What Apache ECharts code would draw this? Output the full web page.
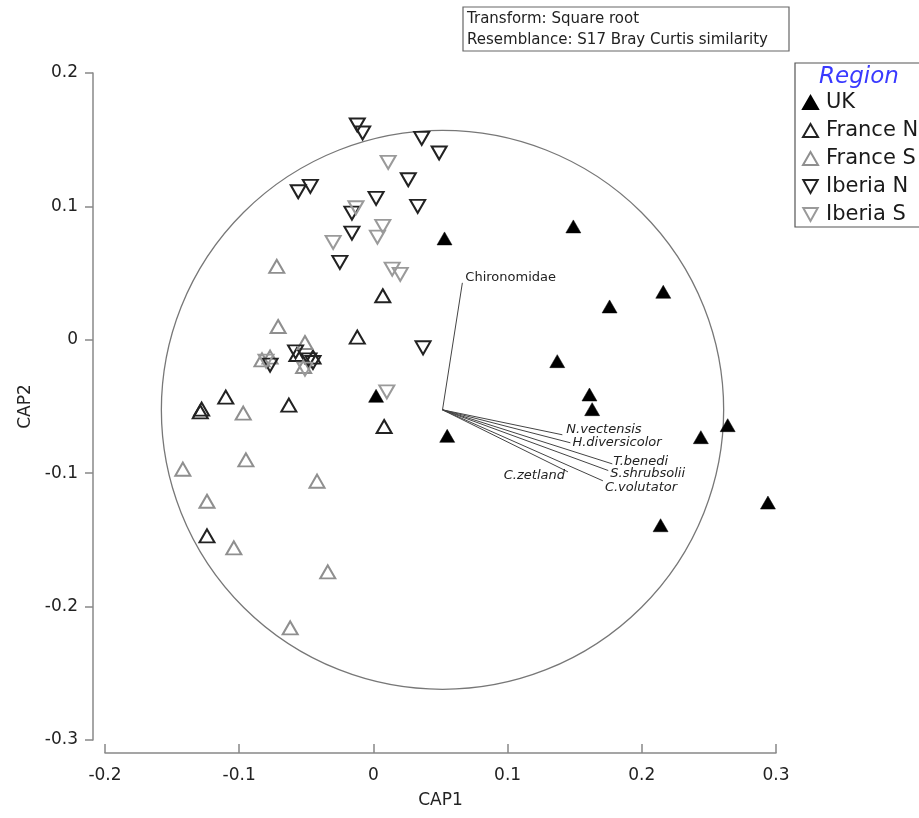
<!DOCTYPE html>
<html>
<head>
<meta charset="utf-8">
<script src="https://cdn.jsdelivr.net/npm/echarts@6/dist/echarts.min.js"></script>
<style>
html, body { margin: 0; padding: 0; background: #fff; }
#main { width: 919px; height: 818px; }
</style>
</head>
<body>
<div id="main"></div>
<script>
/* 数据 */
var ukX = [0.053, 0.149, 0.216, 0.176, 0.137, 0.161, 0.163, 0.055, 0.244, 0.264, 0.294, 0.214, 0.002];
var ukY = [0.076, 0.085, 0.036, 0.025, -0.016, -0.041, -0.052, -0.072, -0.073, -0.064, -0.122, -0.139, -0.042];

var franceNX = [-0.129, -0.128, -0.110, -0.063, 0.008, -0.124, 0.007, -0.012, -0.057, -0.045];
var franceNY = [-0.054, -0.052, -0.043, -0.049, -0.065, -0.147, 0.033, 0.002, -0.011, -0.013];

var franceSX = [-0.072, -0.071, -0.083, -0.077, -0.051, -0.052, -0.097, -0.142, -0.095, -0.042, -0.124, -0.104, -0.034, -0.062];
var franceSY = [0.055, 0.010, -0.015, -0.013, -0.002, -0.020, -0.055, -0.097, -0.090, -0.106, -0.121, -0.156, -0.174, -0.216];

var iberiaNX = [-0.012, -0.008, 0.036, 0.049, 0.026, 0.002, 0.033, -0.016, -0.016, -0.025, -0.056, -0.047, 0.037, -0.077, -0.058, -0.048, -0.045];
var iberiaNY = [0.161, 0.155, 0.151, 0.140, 0.120, 0.106, 0.100, 0.095, 0.080, 0.058, 0.111, 0.115, -0.006, -0.019, -0.009, -0.015, -0.017];

var iberiaSX = [0.011, -0.013, 0.007, 0.003, -0.030, 0.014, 0.020, 0.010, -0.080, -0.051];
var iberiaSY = [0.133, 0.099, 0.085, 0.077, 0.073, 0.053, 0.049, -0.039, -0.016, -0.022];

/* 向量 */
var vectorNames = ['Chironomidae', 'N.vectensis', 'H.diversicolor', 'T.benedi', 'S.shrubsolii', 'C.volutator', 'C.zetland'];
var vectorX = [0.0663, 0.1408, 0.1468, 0.178, 0.175, 0.171, 0.145];
var vectorY = [0.0427, -0.0712, -0.0772, -0.093, -0.098, -0.1057, -0.099];
var vectorOrigin = [0.0515, -0.0525];
var circleRadius = 0.2095;

/* 刻度 */
var xTicks = ['-0.2', '-0.1', '0', '0.1', '0.2', '0.3'];
var yTicks = ['-0.3', '-0.2', '-0.1', '0', '0.1', '0.2'];

var FONT = 'DejaVu Sans, Verdana, sans-serif';
var DOWN = 'path://M0,0 L10,0 L5,9 Z';

/* 标签位置 */
var labelStyle = {
	'Chironomidae': { align: 'left', dx: 3, dy: -5 },
	'N.vectensis': { align: 'left', dx: 4, dy: -5 },
	'H.diversicolor': { align: 'left', dx: 2, dy: 0 },
	'T.benedi': { align: 'left', dx: 1, dy: -2 },
	'S.shrubsolii': { align: 'left', dx: 2, dy: 3 },
	'C.volutator': { align: 'left', dx: 2, dy: 7 },
	'C.zetland': { align: 'right', dx: -3, dy: 4 }
};

function zip(xs, ys) {
	var out = [];
	for (var i = 0; i < xs.length; i++) {
		out.push([xs[i], ys[i]]);
	}
	return out;
}

var myChart = echarts.init(document.getElementById('main'), null, { renderer: 'canvas' });

function pointSeries(name, xs, ys, fill, stroke, down) {
	return {
		name: name,
		type: 'scatter',
		data: zip(xs, ys),
		symbol: 'triangle',
		symbolSize: [15, 13],
		symbolRotate: down ? 180 : 0,
		z: 5,
		itemStyle: {
			color: fill,
			borderColor: stroke,
			borderWidth: fill === stroke ? 0.5 : 2,
			opacity: 1
		}
	};
}

var vectorData = [];
for (var i = 0; i < vectorNames.length; i++) {
	vectorData.push([vectorX[i], vectorY[i], vectorNames[i]]);
}

var option = {
	backgroundColor: '#fff',
	animation: false,
	textStyle: { fontFamily: FONT },
	grid: { left: 105, right: 143, top: 73, bottom: 78 },
	xAxis: {
		type: 'value',
		min: -0.2,
		max: 0.3,
		interval: 0.1,
		offset: 13,
		name: 'CAP1',
		nameLocation: 'middle',
		nameGap: 39,
		nameTextStyle: { fontSize: 17, color: '#222', fontFamily: FONT },
		axisLine: { onZero: false, lineStyle: { color: '#888', width: 1.5 } },
		axisTick: { inside: true, length: 9, lineStyle: { color: '#888', width: 1.5 } },
		axisLabel: {
			fontSize: 17, color: '#222', margin: 14, fontFamily: FONT,
			formatter: function(v) { return xTicks[Math.round((v + 0.2) * 10)]; }
		},
		splitLine: { show: false }
	},
	yAxis: {
		type: 'value',
		min: -0.3,
		max: 0.2,
		interval: 0.1,
		offset: 12,
		name: 'CAP2',
		nameLocation: 'middle',
		nameGap: 58,
		nameTextStyle: { fontSize: 17, color: '#222', fontFamily: FONT },
		axisLine: { onZero: false, lineStyle: { color: '#888', width: 1.5 } },
		axisTick: { length: 8, lineStyle: { color: '#888', width: 1.5 } },
		axisLabel: {
			fontSize: 17, color: '#222', margin: 15, fontFamily: FONT,
			formatter: function(v) { return yTicks[Math.round((v + 0.3) * 10)]; }
		},
		splitLine: { show: false }
	},
	legend: {
		orient: 'vertical',
		left: 802,
		top: 92,
		itemGap: 7,
		itemWidth: 15,
		itemHeight: 13,
		padding: 0,
		textStyle: { fontSize: 21, lineHeight: 20, color: '#1a1a1a', fontFamily: FONT, padding: [0, 0, 0, 3] },
		data: [
			{ name: 'UK' },
			{ name: 'France N' },
			{ name: 'France S' },
			{ name: 'Iberia N', icon: DOWN },
			{ name: 'Iberia S', icon: DOWN }
		]
	},
	graphic: [
		{
			type: 'rect',
			shape: { x: 795, y: 63, width: 140, height: 164 },
			style: { fill: '#fff', stroke: '#555', lineWidth: 1.2 },
			z: 0
		},
		{
			type: 'text',
			x: 859,
			y: 77,
			style: {
				text: 'Region', fill: '#3a3aff', font: 'oblique 23px ' + FONT,
				textAlign: 'center', textVerticalAlign: 'middle'
			},
			z: 1
		},
		{
			type: 'rect',
			shape: { x: 463, y: 7, width: 326, height: 44 },
			style: { fill: '#fff', stroke: '#666', lineWidth: 1.2 }
		},
		{
			type: 'text',
			x: 467,
			y: 19,
			style: { text: 'Transform: Square root', fill: '#222', font: '15px ' + FONT, textVerticalAlign: 'middle' }
		},
		{
			type: 'text',
			x: 467,
			y: 40,
			style: { text: 'Resemblance: S17 Bray Curtis similarity', fill: '#222', font: '15px ' + FONT, textVerticalAlign: 'middle' }
		}
	],
	series: [
		{
			/* 相关圆 */
			type: 'custom',
			silent: true,
			clip: false,
			z: 1,
			data: [[vectorOrigin[0], vectorOrigin[1]]],
			renderItem: function(params, api) {
				var c = api.coord([api.value(0), api.value(1)]);
				var ex = api.coord([api.value(0) + circleRadius, api.value(1)]);
				var ey = api.coord([api.value(0), api.value(1) + circleRadius]);
				var rx = ex[0] - c[0];
				var ry = c[1] - ey[1];
				return {
					type: 'circle',
					shape: { cx: 0, cy: 0, r: rx },
					x: c[0],
					y: c[1],
					scaleY: ry / rx,
					style: { fill: 'none', stroke: '#777', lineWidth: 1.3, strokeNoScale: true }
				};
			}
		},
		{
			/* 物种向量 */
			type: 'custom',
			silent: true,
			clip: false,
			z: 2,
			data: vectorData,
			renderItem: function(params, api) {
				var o = api.coord(vectorOrigin);
				var p = api.coord([api.value(0), api.value(1)]);
				var name = vectorNames[params.dataIndex];
				var ls = labelStyle[name];
				return {
					type: 'group',
					children: [
						{
							type: 'line',
							shape: { x1: o[0], y1: o[1], x2: p[0], y2: p[1] },
							style: { stroke: '#444', lineWidth: 1 }
						},
						{
							type: 'text',
							x: p[0] + ls.dx,
							y: p[1] + ls.dy,
							style: {
								text: name,
								fill: '#222',
								font: (name === 'Chironomidae' ? '' : 'oblique ') + '13px ' + FONT,
								textAlign: ls.align,
								textVerticalAlign: 'middle'
							}
						}
					]
				};
			}
		},
		pointSeries('UK', ukX, ukY, '#000', '#000', false),
		pointSeries('France N', franceNX, franceNY, 'rgba(255,255,255,0)', '#222', false),
		pointSeries('France S', franceSX, franceSY, 'rgba(255,255,255,0)', '#8f8f8f', false),
		pointSeries('Iberia N', iberiaNX, iberiaNY, 'rgba(255,255,255,0)', '#222', true),
		pointSeries('Iberia S', iberiaSX, iberiaSY, 'rgba(255,255,255,0)', '#9a9a9a', true)
	]
};

myChart.setOption(option);
</script>
</body>
</html>
